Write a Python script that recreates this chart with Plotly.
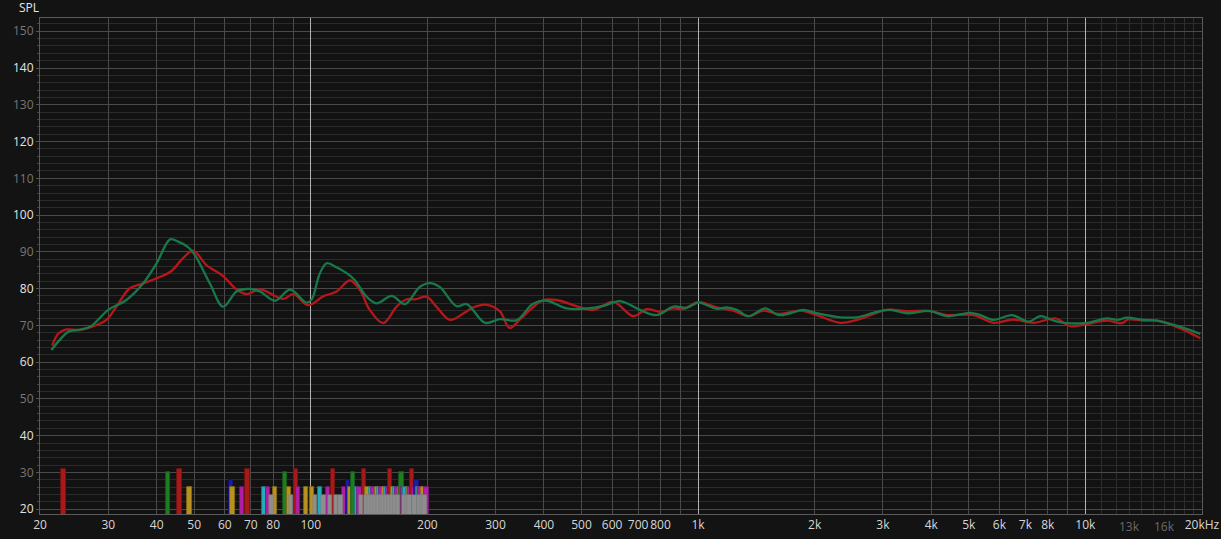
import math
import plotly.graph_objects as go

# ---------------- data ----------------
red_freq = [21.5, 22.3, 23.4, 25.3, 28.0, 29.7, 31.5, 34.1, 36.9, 40.0, 43.7, 46.8, 49.7, 53.8,
            59.4, 64.3, 68.3, 73.9, 84.9, 90.1, 98.5, 107.7, 116.6, 126.2, 134, 142, 153.8,
            166.6, 176.8, 186, 199, 211, 228.8, 247.6, 263, 285, 308, 326, 347, 372, 398.6,
            431, 496, 536.6, 604, 680.6, 737, 798, 864, 915, 1002, 1118, 1234, 1349, 1475,
            1612, 1835, 2026, 2328, 2570, 3074, 3462, 3977, 4391, 5144, 5795, 6526, 7350,
            8364, 9141, 10098, 11372, 12436, 12870, 14143, 15311, 17590, 19812]
red_spl = [64.5, 67.8, 68.9, 68.7, 70.1, 71.5, 75.1, 80.1, 81.4, 82.8, 84.8, 88.3, 90.3, 86.4,
           83.4, 79.8, 78.5, 79.8, 77.2, 78.5, 75.5, 77.9, 79.2, 82.2, 79.6, 74.2, 70.6,
           75.1, 77.1, 77.1, 77.8, 75.1, 71.5, 73.2, 74.9, 75.6, 73.8, 69.3, 71.6, 74.6, 76.9,
           76.9, 74.9, 74.2, 76.4, 72.5, 74.4, 73.7, 74.6, 74.4, 76.3, 74.9, 74.0, 72.5, 74.0,
           73.1, 74.0, 72.8, 70.7, 71.5, 74.2, 73.9, 73.9, 72.8, 72.8, 70.7, 71.6, 70.7,
           71.9, 69.8, 70.4, 71.3, 70.6, 71.6, 71.3, 71.3, 69.2, 66.5]

green_freq = [21.4, 23.7, 24.8, 26.9, 30.0, 33.4, 36.9, 40.0, 43.3, 45.0, 48.2, 50.2, 54.9,
              59.4, 64.3, 68.3, 73.9, 80.8, 88.5, 97.5, 100.5, 105.6, 110, 116.5, 123.8, 130,
              139.4, 147.9, 161.8, 175, 191.4, 203, 215.6, 238, 252.8, 281.8, 308, 340, 375,
              406.6, 458, 516, 569.6, 629, 708, 782, 864, 935, 1002, 1118, 1186, 1259, 1349,
              1490, 1612, 1729, 1871, 2026, 2328, 2570, 2896, 3133, 3462, 3977, 4391, 5044,
              5352, 5795, 6465, 7134, 7648, 8280, 8966, 10098, 11372, 12073, 12812, 14143,
              15311, 17590, 19812]
green_spl = [63.3, 68.3, 68.7, 69.6, 74.2, 76.9, 81.4, 86.9, 93.4, 93.0, 91.3, 89.2, 81.4,
             75.1, 79.2, 79.9, 79.2, 76.7, 79.7, 76.2, 77.0, 84.2, 86.9, 85.8, 84.2, 82.3,
             77.8, 76.0, 78.0, 75.8, 80.5, 81.5, 80.4, 75.2, 75.8, 70.7, 71.7, 71.4, 75.9,
             76.7, 74.6, 74.6, 75.3, 76.6, 74.2, 72.8, 75.1, 74.8, 76.2, 74.5, 74.9, 74.2, 72.5,
             74.6, 72.8, 73.3, 74.2, 73.3, 72.2, 72.2, 73.7, 74.2, 73.3, 73.9, 72.5, 73.4,
             72.8, 71.5, 72.8, 71.0, 72.5, 71.3, 70.6, 70.7, 71.9, 71.5, 72.1, 71.5,
             71.3, 69.6, 67.7]

# room-mode markers (frequency, level, kind)
mode_freq = [23.0, 42.8, 45.8, 48.6, 62.3, 62.8, 66.5, 68.6, 75.8, 77.5, 80.9, 85.9, 88.0,
             91.7, 92.8, 97.3, 100.9, 105.7, 110.6, 114.2, 122.1, 124.9, 126.5, 128.7, 131.6,
             133.5, 137.3, 140.0, 143.0, 145.0, 148.0, 150.0, 152.0, 155.0, 157.0, 158.5,
             160.3, 163.5, 165.0, 167.0, 170.0, 171.5, 173.5, 175.0, 178.0, 179.5, 181.0,
             182.9, 184.5, 187.6, 189.0, 190.5, 192.0, 195.0, 199.0]
mode_level = [31, 30, 31, 26, 28, 26, 26, 31, 26, 26, 26, 30, 26,
              31, 26, 26, 26, 26, 26, 31, 26, 28, 26, 30, 26,
              26, 31, 26, 26, 26, 26, 26, 26, 26, 26, 26,
              31, 26, 26, 26, 26, 30, 26, 26, 26, 26, 26,
              31, 26, 28, 26, 26, 26, 26, 26]
mode_kind = ["r", "g", "r", "y", "b", "y", "m", "r", "c", "m", "y", "g", "y",
             "r", "m", "y", "y", "c", "m", "r", "m", "b", "y", "g", "c",
             "m", "r", "y", "c", "m", "y", "c", "m", "y", "c", "m",
             "r", "y", "c", "m", "y", "g", "m", "c", "c", "y", "m",
             "r", "m", "b", "y", "c", "m", "y", "m"]

gray_freq = [79.2, 89.0, 102.6, 107.8, 112.0, 116.2, 119.3, 134.8, 139.2, 141.6, 144.2, 146.7,
             149.2, 151.7, 154.2, 156.8, 159.0, 162.2, 165.2, 168.2, 174.2, 177.0, 180.0,
             185.5, 190.0, 193.5, 196.8]
gray_level = [24] * len(gray_freq)

y_ticks = [20, 30, 40, 50, 60, 70, 80, 90, 100, 110, 120, 130, 140, 150]
x_ticks = [20, 30, 40, 50, 60, 70, 80, 90, 100, 200, 300, 400, 500, 600, 700, 800, 900,
           1000, 2000, 3000, 4000, 5000, 6000, 7000, 8000, 9000, 10000, 20000]
x_labels = ["20", "30", "40", "50", "60", "70", "80", "", "100", "200", "300", "400", "500",
            "600", "700", "800", "", "1k", "2k", "3k", "4k", "5k", "6k", "7k", "8k", "", "10k",
            "20kHz"]
x_fine = [11000, 12000, 13000, 14000, 15000, 16000, 17000, 18000, 19000]
x_fine_labels = {13000: "13k", 16000: "16k"}
decades = [100, 1000, 10000]

# ---------------- styles ----------------
KIND_FILL = {"r": "#a61a1a", "g": "#1f7d22", "b": "#1c1ca0", "y": "#b8921e",
             "c": "#22aebb", "m": "#b01fa6", "k": "#8e8e8e"}
KIND_EDGE = {"r": "#7a1212", "g": "#175c19", "b": "#121278", "y": "#8a6c16",
             "c": "#188089", "m": "#7e167a", "k": "#7a7a7a"}
BAR_REL_WIDTH = 0.026
FONT = "Open Sans"
X_RANGE = [math.log10(20) - 1e-4, math.log10(20000) + 1e-4]

fig = go.Figure()

fig.add_trace(go.Bar(
    x=mode_freq, y=mode_level, base=0,
    width=[f * BAR_REL_WIDTH for f in mode_freq],
    marker=dict(color=[KIND_FILL[k] for k in mode_kind],
                line=dict(color=[KIND_EDGE[k] for k in mode_kind], width=0.8)),
    hoverinfo="skip"))
fig.add_trace(go.Bar(
    x=gray_freq, y=gray_level, base=0,
    width=[f * BAR_REL_WIDTH for f in gray_freq],
    marker=dict(color=KIND_FILL["k"], line=dict(color=KIND_EDGE["k"], width=0.5)),
    hoverinfo="skip"))

fig.add_trace(go.Scatter(x=red_freq, y=red_spl, mode="lines", hoverinfo="skip",
                         line=dict(color="#b5171a", width=2.3, shape="spline", smoothing=1.0)))
# green curve lives on an overlaid x-axis whose only job is the bright decade gridlines
fig.add_trace(go.Scatter(x=green_freq, y=green_spl, mode="lines", hoverinfo="skip",
                         xaxis="x2",
                         line=dict(color="#18784a", width=2.3, shape="spline", smoothing=1.0)))

BRIGHT = "#e4e4e4"
DIM = "#777777"
y_text = [f"<span style='color:{BRIGHT if (v // 10) % 2 == 0 else DIM}'>{v}</span>" for v in y_ticks]

fig.update_layout(
    width=1221, height=539,
    margin=dict(l=40, r=19, t=18, b=25, autoexpand=False),
    paper_bgcolor="#131313", plot_bgcolor="#121212",
    showlegend=False, barmode="overlay", bargap=0,
    font=dict(family=FONT, size=12, color="#d6d6d6"),
    xaxis=dict(type="log", range=X_RANGE,
               tickmode="array", tickvals=x_ticks, ticktext=x_labels, tickangle=0,
               automargin=False,
               showgrid=True, gridcolor="#4a4a4a", gridwidth=1,
               ticks="", zeroline=False,
               showline=True, linecolor="#5a5a5a", mirror=True,
               minor=dict(tickmode="array", tickvals=x_fine, showgrid=True,
                          gridcolor="#2e2e2e", ticks="")),
    xaxis2=dict(type="log", range=X_RANGE, overlaying="x", side="bottom",
                tickmode="array", tickvals=decades, showticklabels=False,
                automargin=False, ticks="", showline=False, zeroline=False,
                showgrid=True, gridcolor="#b4b4b4", gridwidth=1),
    yaxis=dict(range=[18.7, 153.6], tickmode="array", tickvals=y_ticks, ticktext=y_text,
               automargin=False,
               showgrid=True, gridcolor="#4a4a4a", gridwidth=1,
               ticks="outside", ticklen=3, tickcolor="#555555",
               zeroline=False, showline=True, linecolor="#5a5a5a", mirror=True,
               minor=dict(dtick=2, tick0=20, showgrid=True, gridcolor="#2b2b2b",
                          ticks="outside", ticklen=2, tickcolor="#444444")),
)

for f, lab in x_fine_labels.items():
    fig.add_annotation(x=math.log10(f), xref="x", y=0, yref="paper", text=lab,
                       showarrow=False, yanchor="top", yshift=-2,
                       font=dict(color="#6a6a6a", size=12, family=FONT))

fig.add_annotation(x=0, xref="paper", y=1, yref="paper", text="SPL", showarrow=False,
                   xanchor="left", yanchor="bottom", xshift=-23, yshift=0,
                   font=dict(color="#e6e6e6", size=12, family=FONT))

fig.write_html("out.html", config={"displayModeBar": False},
               post_script="document.body.style.margin='0';document.body.style.overflow='hidden';")
